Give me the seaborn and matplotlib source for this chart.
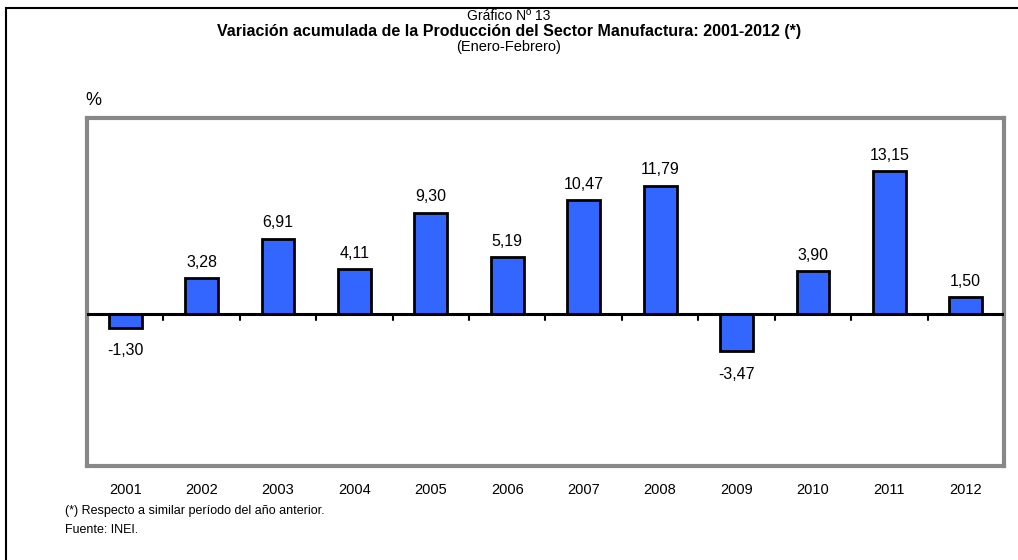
import matplotlib
matplotlib.use("Agg")
import matplotlib.pyplot as plt
import seaborn as sns
import pandas as pd
from matplotlib.patches import Rectangle

years = ["2001", "2002", "2003", "2004", "2005", "2006",
         "2007", "2008", "2009", "2010", "2011", "2012"]
values = [-1.30, 3.28, 6.91, 4.11, 9.30, 5.19,
          10.47, 11.79, -3.47, 3.90, 13.15, 1.50]


def fmt(v):
    return f"{v:.2f}".replace(".", ",")


def main():
    sns.set_theme(style="white")
    plt.rcParams['font.family'] = ['Liberation Sans Narrow', 'Liberation Sans', 'DejaVu Sans']
    plt.rcParams['text.color'] = 'black'
    plt.rcParams['xtick.color'] = 'black'
    plt.rcParams['xtick.labelcolor'] = 'black'

    df = pd.DataFrame({'Year': years, 'Value': values})

    fig = plt.figure(figsize=(10.18, 5.6), dpi=100)
    ax = fig.add_axes([0.0855, 0.168, 0.9007, 0.621])

    sns.barplot(data=df, x='Year', y='Value', color='#3366FF', saturation=1,
                width=0.43, edgecolor='black', linewidth=2, ax=ax, zorder=3)

    ax.set_xlim(-0.5, len(years) - 0.5)
    ax.set_ylim(-14, 18)
    ax.set_yticks([])
    ax.set_xlabel('')
    ax.set_ylabel('')
    ax.tick_params(axis='x', length=0, pad=12, labelsize=10.5, labelcolor='black')

    for side in ax.spines.values():
        side.set_color('#888888')
        side.set_linewidth(3)

    # zero line with small ticks between categories
    ax.axhline(0, color='black', linewidth=2.2, zorder=4)
    for i in range(len(years) - 1):
        ax.plot([i + 0.5, i + 0.5], [0, -0.6], color='black', linewidth=1.5, zorder=4)

    # value labels
    for i, v in enumerate(values):
        if v >= 0:
            ax.annotate(fmt(v), (i, v), xytext=(0, 6), textcoords='offset points',
                        ha='center', va='bottom', fontsize=11.5, color='black')
        else:
            ax.annotate(fmt(v), (i, v), xytext=(0, -11), textcoords='offset points',
                        ha='center', va='top', fontsize=11.5, color='black')

    fig.text(0.5, 0.971, 'Gráfico Nº 13', ha='center', va='center', fontsize=10)
    fig.text(0.5, 0.944, 'Variación acumulada de la Producción del Sector Manufactura: 2001-2012 (*)',
             ha='center', va='center', fontsize=11.5, fontweight='bold')
    fig.text(0.5, 0.916, '(Enero-Febrero)', ha='center', va='center', fontsize=10.5)
    fig.text(0.0835, 0.82, '%', ha='left', va='center', fontsize=13)

    fig.text(0.064, 0.087, '(*) Respecto a similar período del año anterior.',
             ha='left', va='center', fontsize=9)
    fig.text(0.064, 0.054, 'Fuente: INEI.', ha='left', va='center', fontsize=9)

    # outer frame
    fig.patches.append(Rectangle((6 / 1018, -0.1), 1.2, 1 - 8 / 560 + 0.1,
                                 transform=fig.transFigure, fill=False,
                                 edgecolor='black', linewidth=1.5, zorder=0))

    fig.savefig('out.png', dpi=100, facecolor='white')


if __name__ == "__main__":
    main()
